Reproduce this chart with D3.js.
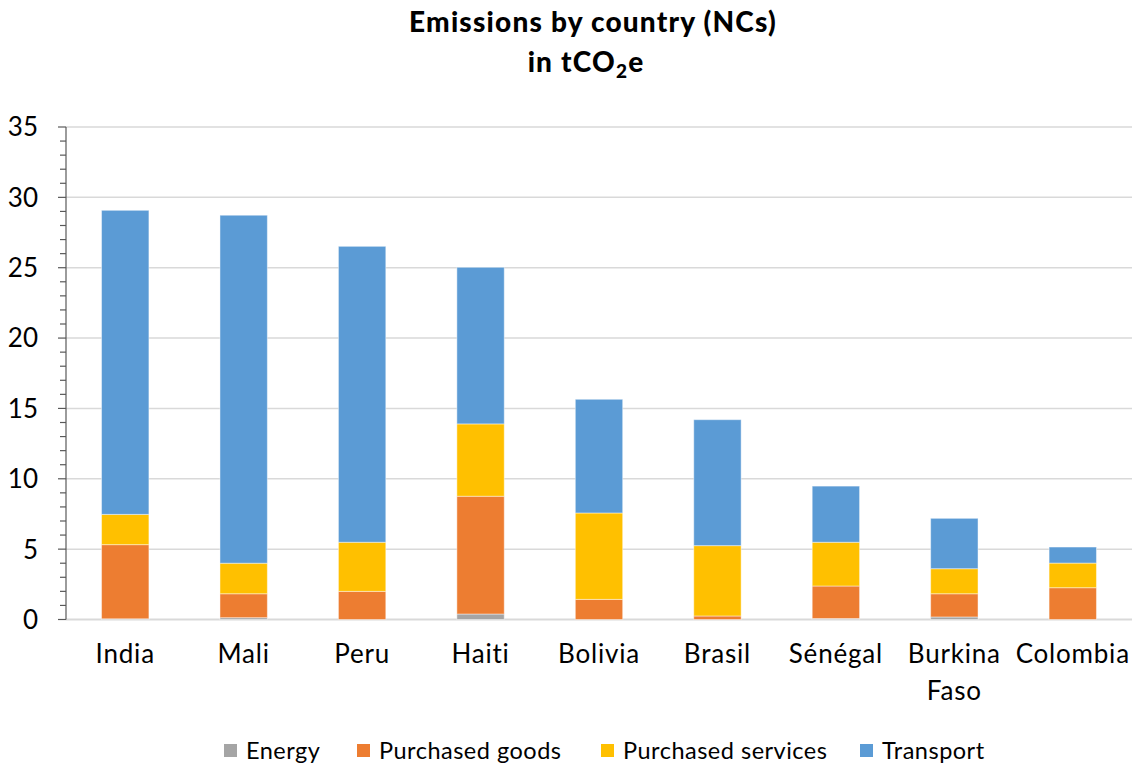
<!DOCTYPE html>
<html>
<head>
<meta charset="utf-8">
<script src="https://cdn.jsdelivr.net/npm/d3@7/dist/d3.min.js"></script>
<style>
  html, body { margin: 0; padding: 0; background: #fff; }
  svg { display: block; }
  text { font-family: Lato, "Open Sans", sans-serif; fill: #000; }
</style>
</head>
<body>
<svg id="chart" width="1137" height="768"></svg>
<script>
// Emissions per country, split by source (tCO2e)
const countries = ["India", "Mali", "Peru", "Haiti", "Bolivia", "Brasil", "Sénégal", "Burkina Faso", "Colombia"];
const energy            = [0.05, 0.13, 0.00, 0.39, 0.00, 0.00, 0.07, 0.18, 0.00];
const purchasedGoods    = [5.27, 1.70, 2.00, 8.37, 1.43, 0.25, 2.31, 1.65, 2.26];
const purchasedServices = [2.15, 2.17, 3.49, 5.14, 6.14, 5.00, 3.11, 1.78, 1.75];
const transport         = [21.61, 24.73, 21.03, 11.13, 8.08, 8.95, 3.99, 3.58, 1.14];
const seriesNames  = ["Energy", "Purchased goods", "Purchased services", "Transport"];
const seriesColors = ["#A5A5A5", "#ED7D31", "#FFC000", "#5B9BD5"];
const yTicks = [0, 5, 10, 15, 20, 25, 30, 35];

const svg = d3.select("#chart");
const plotLeft = 66, plotRight = 1132, plotTop = 127, plotBottom = 619.5;

const rows = countries.map((c, i) => ({
  country: c,
  "Energy": energy[i],
  "Purchased goods": purchasedGoods[i],
  "Purchased services": purchasedServices[i],
  "Transport": transport[i]
}));
const stacked = d3.stack().keys(seriesNames)(rows);

const x = d3.scaleBand().domain(countries).range([plotLeft, plotRight])
  .paddingInner(0.6).paddingOuter(0.3);
const y = d3.scaleLinear().domain([0, 35]).range([plotBottom, plotTop]);
const color = d3.scaleOrdinal().domain(seriesNames).range(seriesColors);

// horizontal gridlines
svg.append("g").selectAll("line").data(yTicks).join("line")
  .attr("x1", plotLeft).attr("x2", plotRight)
  .attr("y1", d => y(d)).attr("y2", d => y(d))
  .attr("stroke", "#d9d9d9").attr("stroke-width", d => d === 0 ? 2 : 1.5);

// stacked bars
svg.append("g").selectAll("g").data(stacked).join("g")
  .attr("fill", d => color(d.key))
  .selectAll("rect").data(d => d.filter(s => s[1] - s[0] > 0)).join("rect")
  .attr("x", d => x(d.data.country))
  .attr("width", x.bandwidth())
  .attr("y", d => y(d[1]))
  .attr("height", d => y(d[0]) - y(d[1]))
  .attr("stroke", "rgba(255,255,255,0.45)").attr("stroke-width", 1);

// y axis with minor ticks
const minor = d3.range(0, 36, 1).filter(v => v % 5 !== 0);
const axisG = svg.append("g");
axisG.append("line").attr("x1", plotLeft).attr("x2", plotLeft)
  .attr("y1", y(35)).attr("y2", y(0)).attr("stroke", "#595959").attr("stroke-width", 1.2);
axisG.selectAll("line.minor").data(minor).join("line").attr("class", "minor")
  .attr("x1", plotLeft - 6).attr("x2", plotLeft).attr("y1", d => y(d)).attr("y2", d => y(d))
  .attr("stroke", "#595959").attr("stroke-width", 1.2);
axisG.selectAll("line.major").data(yTicks).join("line").attr("class", "major")
  .attr("x1", plotLeft - 8).attr("x2", plotLeft).attr("y1", d => y(d)).attr("y2", d => y(d))
  .attr("stroke", "#595959").attr("stroke-width", 1.2);
axisG.selectAll("text").data(yTicks).join("text")
  .attr("x", 38).attr("y", d => y(d)).attr("dy", "0.36em")
  .attr("text-anchor", "end").attr("font-size", 26).text(d => d);

// category labels (wrapped on spaces)
const xl = svg.append("g").selectAll("text").data(countries).join("text")
  .attr("x", d => x(d) + x.bandwidth() / 2)
  .attr("y", 663).attr("text-anchor", "middle").attr("font-size", 26)
  .attr("letter-spacing", 0.8);
xl.each(function(d) {
  const words = d.split(" ");
  d3.select(this).selectAll("tspan").data(words).join("tspan")
    .attr("x", x(d) + x.bandwidth() / 2)
    .attr("dy", (w, i) => i === 0 ? 0 : 37)
    .text(w => w);
});

// title
svg.append("text").attr("x", 593).attr("y", 32).attr("text-anchor", "middle")
  .attr("font-size", 28).attr("font-weight", 900).attr("letter-spacing", 1.2)
  .text("Emissions by country (NCs)");
const t2 = svg.append("text").attr("x", 586).attr("y", 72).attr("text-anchor", "middle")
  .attr("font-size", 28).attr("font-weight", 900).attr("letter-spacing", 1.2);
t2.append("tspan").text("in tCO");
t2.append("tspan").attr("font-size", 19).attr("dy", 6).text("2");
t2.append("tspan").attr("dy", -6).text("e");

// legend
const legendX = [224, 357, 601, 860];
const lg = svg.append("g").selectAll("g").data(seriesNames).join("g")
  .attr("transform", (d, i) => `translate(${legendX[i]},751)`);
lg.append("rect").attr("x", 0).attr("y", -7).attr("width", 13).attr("height", 13)
  .attr("fill", d => color(d));
lg.append("text").attr("x", 22).attr("dy", "0.36em").attr("font-size", 23.5)
  .attr("letter-spacing", 0.5).text(d => d);
</script>
</body>
</html>
